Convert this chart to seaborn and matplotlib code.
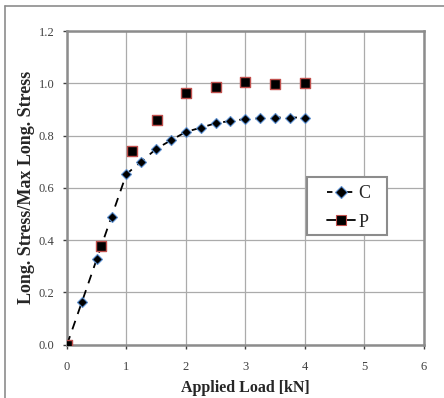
import matplotlib
matplotlib.use("Agg")
import matplotlib.pyplot as plt
import seaborn as sns
import pandas as pd
from matplotlib.lines import Line2D
from matplotlib.patches import Rectangle

sns.set_theme(style="whitegrid")
plt.rcParams['font.family'] = ['Liberation Serif', 'DejaVu Serif']

c_load = [0, 0.25, 0.5, 0.75, 1.0, 1.25, 1.5, 1.75, 2.0, 2.25, 2.5, 2.75, 3.0, 3.25, 3.5, 3.75, 4.0]
c_stress = [0, 0.163, 0.327, 0.49, 0.653, 0.700, 0.749, 0.782, 0.814, 0.830, 0.847, 0.856, 0.863, 0.866, 0.869, 0.869, 0.869]
p_load = [0, 0.57, 1.09, 1.51, 2.01, 2.5, 3.0, 3.5, 4.0]
p_stress = [0, 0.379, 0.741, 0.860, 0.964, 0.987, 1.004, 0.998, 1.002]
x_ticks = [0, 1, 2, 3, 4, 5, 6]
y_ticks = [0.0, 0.2, 0.4, 0.6, 0.8, 1.0, 1.2]

df_c = pd.DataFrame({"load": c_load, "stress": c_stress})
df_p = pd.DataFrame({"load": p_load, "stress": p_stress})

W, H = 444, 398
fig = plt.figure(figsize=(W / 100, H / 100), dpi=100)
ax = fig.add_axes([67 / W, 1 - 344.7 / H, (423.5 - 67) / W, (344.7 - 31) / H])

sns.lineplot(data=df_c, x="load", y="stress", ax=ax, color="black", linestyle=(0, (5, 4)),
             linewidth=1.3, marker="D", markersize=5.5, markerfacecolor="black",
             markeredgecolor="#5b8fd0", markeredgewidth=0.8, zorder=3)
sns.scatterplot(data=df_p, x="load", y="stress", ax=ax, marker="s", s=60, color="black",
                edgecolor="#c0504d", linewidth=1.0, zorder=4)

ax.set_xlim(0, 6)
ax.set_ylim(0, 1.2)
ax.set_xticks(x_ticks)
ax.set_xticklabels([str(t) for t in x_ticks])
ax.set_yticks(y_ticks)
ax.set_yticklabels([f"{t:.1f}" for t in y_ticks])
ax.grid(True, color="#ababab", linewidth=0.9)
ax.set_axisbelow(True)
for s in ax.spines.values():
    s.set_visible(True)
    s.set_color("#8c8c8c")
    s.set_linewidth(1.8)
ax.tick_params(axis="both", labelsize=9, colors="#404040", length=3, width=1, direction="out",
               left=True, bottom=True)
ax.tick_params(axis="x", pad=9)
ax.tick_params(axis="y", pad=6)
ax.set_xlabel("Applied Load [kN]", fontsize=11.5, fontweight="bold", labelpad=5)
ax.set_ylabel("Long. Stress/Max Long. Stress", fontsize=13, fontweight="bold", labelpad=3)

# legend box (pixel coords of the reference)
bx0, by0, bx1, by1 = 307.3, 177.3, 387.3, 235.0
fig.add_artist(Rectangle((bx0 / W, 1 - by1 / H), (bx1 - bx0) / W, (by1 - by0) / H,
                         transform=fig.transFigure, facecolor="white", edgecolor="#8c8c8c",
                         linewidth=1.5, zorder=5))

handles = [
    Line2D([0], [0], color="black", linestyle=(0, (3, 2.5)), linewidth=1.3, marker="D", markersize=6,
           markerfacecolor="black", markeredgecolor="#5b8fd0", markeredgewidth=0.8),
    Line2D([0], [0], color="black", linestyle="-", linewidth=1.3, marker="s", markersize=7,
           markerfacecolor="black", markeredgecolor="#c0504d", markeredgewidth=0.8),
]
leg = fig.legend(handles, ["C", "P"], loc="upper left", bbox_to_anchor=(327.0 / W, 1 - 185.5 / H),
                 frameon=False, fontsize=13, handlelength=1.55, handletextpad=0.2,
                 borderpad=0, labelspacing=0.62, borderaxespad=0)
leg.set_zorder(6)

fig.add_artist(Line2D([4.5 / W, 4.5 / W], [0, 1 - 5.5 / H], transform=fig.transFigure,
                      color="#8c8c8c", linewidth=1.2))
fig.add_artist(Line2D([4.5 / W, 1], [1 - 5.5 / H, 1 - 5.5 / H], transform=fig.transFigure,
                      color="#8c8c8c", linewidth=1.2))

fig.savefig("out.png", dpi=100)
